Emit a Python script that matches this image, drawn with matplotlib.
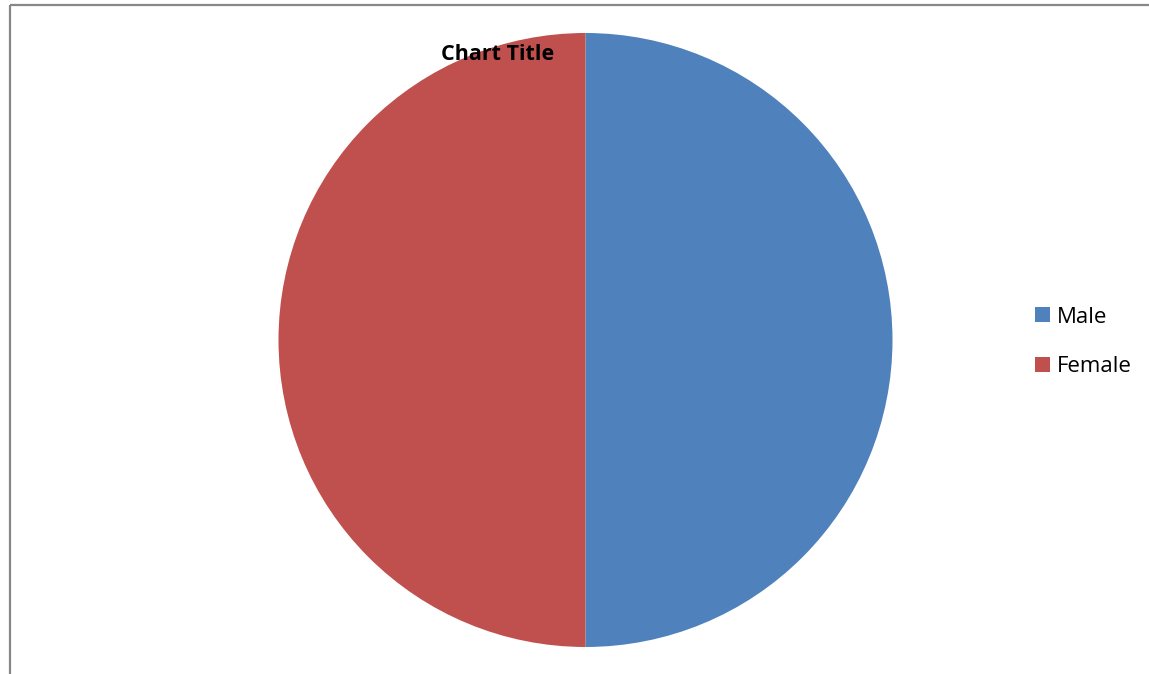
import matplotlib.pyplot as plt

# ---------------- Data ----------------
labels = ["Male", "Female"]
values = [50, 50]
colors = ["#4F81BD", "#C0504D"]
title = "Chart Title"

W, H = 1149, 674
plt.rcParams["font.family"] = ["Open Sans", "DejaVu Sans"]

fig = plt.figure(figsize=(W / 100, H / 100), dpi=100)
ax = fig.add_axes([0, 0, 1, 1])

wedges, _ = ax.pie(values, colors=colors, startangle=90, counterclock=False,
                   center=(585.5, H - 340), radius=307,
                   wedgeprops=dict(linewidth=0))
ax.set_xlim(0, W)
ax.set_ylim(0, H)
ax.set_aspect("auto")
ax.axis("off")

# chart area border (top and left visible)
ax.plot([9.5, W], [H - 4.5, H - 4.5], color="#878787", lw=1.6, solid_capstyle="butt")
ax.plot([9.5, 9.5], [0, H - 4.5], color="#878787", lw=1.6, solid_capstyle="butt")

ax.text(498, H - 54, title, fontsize=15.5, fontweight="bold", ha="center", va="center")

ax.legend(wedges, labels, loc="center left", bbox_to_anchor=(1026 / W, 1 - 342 / H),
          frameon=False, fontsize=16, handlelength=0.68, handleheight=0.68,
          handletextpad=0.3, labelspacing=1.3, borderaxespad=0)

fig.savefig("out.png", dpi=100)
